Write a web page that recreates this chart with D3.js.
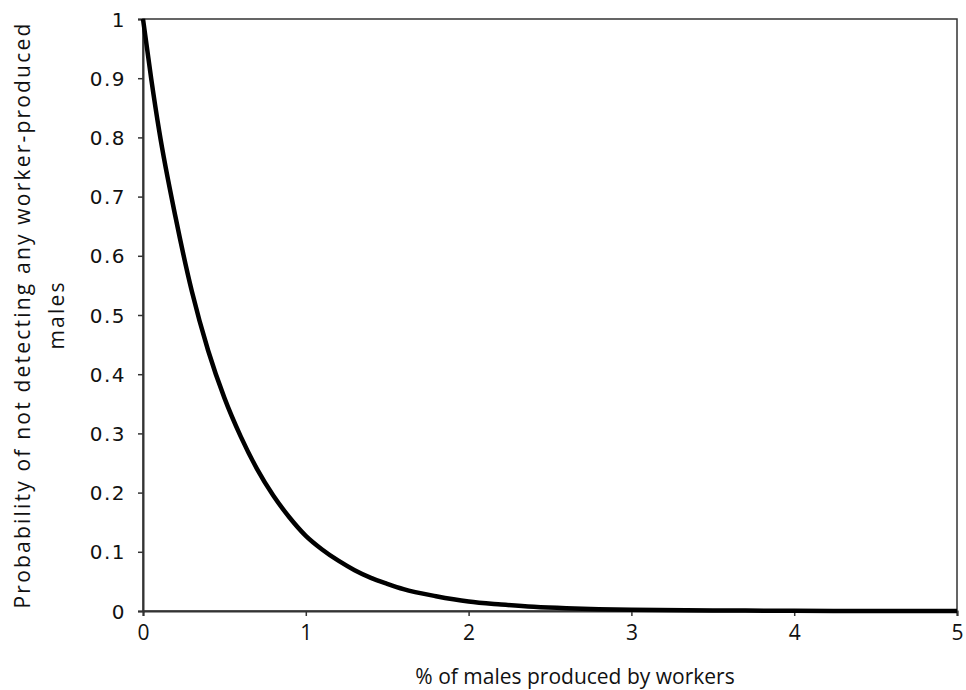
<!DOCTYPE html>
<html>
<head>
<meta charset="utf-8">
<script src="https://cdn.jsdelivr.net/npm/d3@7"></script>
<style>
  body { margin: 0; background: #fff; }
  svg text { fill: #111; }
</style>
</head>
<body>
<svg id="chart" width="966" height="690"></svg>
<script>
// values
const workerPct = [0, 0.05, 0.1, 0.2, 0.3, 0.4, 0.5, 0.6, 0.7, 0.8, 0.9, 1.0, 1.1, 1.2, 1.3, 1.4, 1.5, 1.6, 1.8, 2.0, 2.2, 2.4, 2.6, 2.8, 3.0, 3.5, 4.0, 4.5, 5.0];
const probNone  = [1, 0.9, 0.81, 0.665, 0.54, 0.44, 0.36, 0.295, 0.24, 0.195, 0.158, 0.127, 0.104, 0.085, 0.069, 0.056, 0.046, 0.037, 0.025, 0.016, 0.011, 0.007, 0.0045, 0.003, 0.002, 0.001, 0.0003, 0.0001, 0];
const xTicks = [0, 1, 2, 3, 4, 5];
const yTicks = [0, 0.1, 0.2, 0.3, 0.4, 0.5, 0.6, 0.7, 0.8, 0.9, 1];

const margin = {left: 143, right: 9, top: 19, bottom: 79};
const width = 966, height = 690;

const svg = d3.select('#chart');

const x = d3.scaleLinear().domain([0, 5]).range([margin.left, width - margin.right]);
const y = d3.scaleLinear().domain([0, 1]).range([height - margin.bottom, margin.top]);

// plot box
svg.append('rect')
  .attr('x', x(0)).attr('y', y(1))
  .attr('width', x(5) - x(0)).attr('height', y(0) - y(1))
  .attr('fill', 'none').attr('stroke', '#333').attr('stroke-width', 1.5);

// axes
const xAxis = svg.append('g')
  .attr('transform', `translate(0,${y(0)})`)
  .call(d3.axisBottom(x).tickValues(xTicks).tickFormat(d3.format('d')).tickSize(5).tickPadding(9));
xAxis.selectAll('text')
  .attr('font-family', '"Open Sans", sans-serif').attr('font-size', 21);

const yAxis = svg.append('g')
  .attr('transform', `translate(${x(0)},0)`)
  .call(d3.axisLeft(y).tickValues(yTicks).tickFormat(d => d === 0 || d === 1 ? d : d3.format('.1f')(d)).tickSize(5).tickPadding(12));
yAxis.selectAll('text')
  .attr('font-family', '"DejaVu Sans", sans-serif').attr('font-size', 20)
  .attr('letter-spacing', 1.5).attr('dy', '0.35em');

svg.selectAll('.domain').attr('stroke', '#333').attr('stroke-width', 2);
svg.selectAll('.tick line').attr('stroke', '#333').attr('stroke-width', 1.5);

// curve
const line = d3.line()
  .x((d, i) => x(workerPct[i]))
  .y(d => y(d))
  .curve(d3.curveMonotoneX);

svg.append('path')
  .attr('d', line(probNone))
  .attr('fill', 'none')
  .attr('stroke', '#000')
  .attr('stroke-width', 4.5);

// axis titles
svg.append('text')
  .attr('x', (x(0) + x(5)) / 2 + 25).attr('y', 684)
  .attr('text-anchor', 'middle')
  .attr('font-family', '"Open Sans", sans-serif').attr('font-size', 21)
  .text('% of males produced by workers');

const yTitle = svg.append('text')
  .attr('transform', `translate(30,${(y(0) + y(1)) / 2}) rotate(-90)`)
  .attr('text-anchor', 'middle')
  .attr('font-family', '"Open Sans", sans-serif').attr('font-size', 21)
  .attr('letter-spacing', 2.2);
yTitle.append('tspan').attr('x', 0).attr('dy', 0).text('Probability of not detecting any worker-produced');
yTitle.append('tspan').attr('x', 0).attr('dy', 34).text('males');
</script>
</body>
</html>
